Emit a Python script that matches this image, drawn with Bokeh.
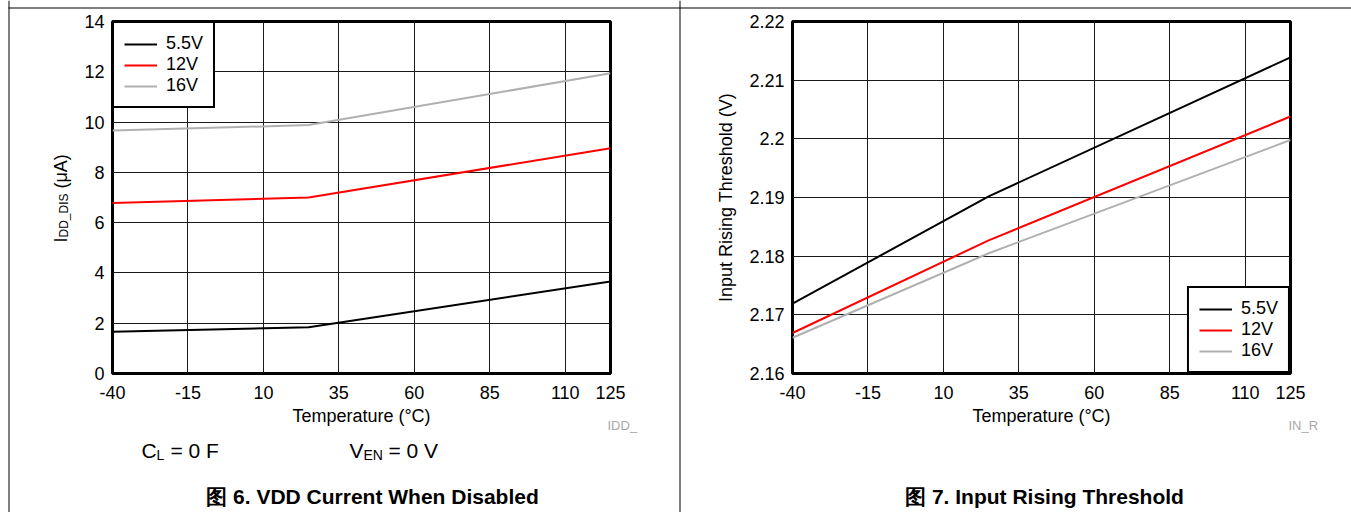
import math
from bokeh.plotting import figure
from bokeh.layouts import column, row
from bokeh.models import Range1d, FixedTicker, Label, Legend, LegendItem, BoxAnnotation
from bokeh.embed import file_html
from bokeh.resources import INLINE

FONT = "Liberation Sans"

# ---------------- data ----------------
temps = [-40, 25, 125]

idd_55 = [1.66, 1.84, 3.66]
idd_12 = [6.78, 7.00, 8.96]
idd_16 = [9.66, 9.88, 11.94]

thr_55 = [2.1719, 2.1902, 2.2139]
thr_12 = [2.1669, 2.1827, 2.2038]
thr_16 = [2.1661, 2.1805, 2.1998]

series_names = ["5.5V", "12V", "16V"]
series_colors = ["#000000", "#ff0000", "#b0b0b0"]

x_ticks = [-40, -15, 10, 35, 60, 85, 110, 125]
x_tick_labels = ["-40", "-15", "10", "35", "60", "85", "110", "125"]
idd_ticks = [0, 2, 4, 6, 8, 10, 12, 14]
thr_ticks = [2.16, 2.17, 2.18, 2.19, 2.20, 2.21, 2.22]
thr_tick_labels = ["2.16", "2.17", "2.18", "2.19", "2.2", "2.21", "2.22"]

H = 512
FR_TOP, FR_BOT = 21, 373  # canvas y of frame edges


def make_fig(width, bl, br, y0, y1, yticks, ylabels, ylabel_text, series, legend_loc):
    p = figure(width=width, height=H, x_range=Range1d(-40, 125), y_range=Range1d(y0, y1),
               output_backend="svg", toolbar_location=None,
               min_border_left=bl, min_border_right=br,
               min_border_top=FR_TOP, min_border_bottom=H - FR_BOT,
               border_fill_color="white", background_fill_color="white",
               outline_line_color="black", outline_line_width=3, outline_line_alpha=1)
    xa = p.xaxis[0]
    xa.ticker = FixedTicker(ticks=x_ticks)
    xa.major_label_overrides = {t: l for t, l in zip(x_ticks, x_tick_labels)}
    ya = p.yaxis[0]
    ya.ticker = FixedTicker(ticks=yticks)
    if ylabels is not None:
        ya.major_label_overrides = {t: l for t, l in zip(yticks, ylabels)}
    for ax in (xa, ya):
        ax.axis_line_color = None
        ax.major_tick_line_color = None
        ax.minor_tick_line_color = None
        ax.major_tick_out = 0
        ax.major_tick_in = 0
        ax.major_label_text_font = FONT
        ax.major_label_text_font_size = "18px"
        ax.major_label_text_color = "black"
        ax.axis_label_text_font = FONT
        ax.axis_label_text_font_size = "18px"
        ax.axis_label_text_font_style = "normal"
        ax.axis_label_text_color = "black"
    xa.axis_label = "Temperature (°C)"
    xa.major_label_standoff = 12
    xa.axis_label_standoff = 4
    ya.major_label_standoff = 8
    if ylabel_text:
        ya.axis_label = ylabel_text
        ya.axis_label_standoff = 10
    for g in (p.xgrid[0], p.ygrid[0]):
        g.grid_line_color = "#1a1a1a"
        g.grid_line_width = 1

    items = []
    for name, color, vals in zip(series_names, series_colors, series):
        r = p.line(temps, vals, line_color=color, line_width=2)
        items.append(LegendItem(label=name, renderers=[r]))
    leg = Legend(items=items, location=legend_loc, margin=0, padding=10, spacing=0,
                 glyph_width=33, glyph_height=20, label_height=20, label_standoff=9,
                 label_text_font=FONT, label_text_font_size="18px", label_text_color="black",
                 border_line_color="black", border_line_width=2, border_line_alpha=1,
                 background_fill_color="white", background_fill_alpha=1)
    p.add_layout(leg)
    return p


p1 = make_fig(680, 112, 70, 0, 14, idd_ticks, None, "", [idd_55, idd_12, idd_16], "top_left")
p2 = make_fig(671, 112, 61, 2.16, 2.22, thr_ticks, thr_tick_labels,
              "Input Rising Threshold (V)", [thr_55, thr_12, thr_16], "bottom_right")

# transparent overlay (page pixel coordinates) for the free texts and panel borders
ov = figure(width=1351, height=512, x_range=Range1d(0, 1351), y_range=Range1d(512, 0),
            x_axis_type=None, y_axis_type=None, output_backend="svg", toolbar_location=None,
            min_border=0, min_border_left=0, min_border_right=0, min_border_top=0,
            min_border_bottom=0, outline_line_color=None,
            background_fill_alpha=0, border_fill_alpha=0,
            styles={"position": "absolute", "left": "0px", "top": "0px", "pointer-events": "none"})

# table rules around the two panels
for l, r, t, b in ((8, 1351, 7, 8), (8, 9, 0, 512), (679, 680, 0, 512)):
    ov.add_layout(BoxAnnotation(left=l, right=r, top=t, bottom=b, fill_color="black",
                                fill_alpha=1, line_color=None))


def add_text(px, py, text, size, angle=0.0, align="left", color="black", style="normal"):
    ov.add_layout(Label(x=px, y=py, text=text, text_font=FONT, text_font_size=size,
                        text_color=color, text_font_style=style, angle=angle,
                        text_align=align, text_baseline="middle"))


# left y-axis label with subscript (rotated, reading upwards)
add_text(60, 242, "I", "18px", angle=math.pi / 2)
add_text(63, 237, "DD_DIS", "12px", angle=math.pi / 2)
add_text(60, 188, "(μA)", "18px", angle=math.pi / 2)

# conditions
add_text(141, 449.5, "C", "21px")
add_text(156, 454, "L", "14px")
add_text(170, 449.5, "= 0 F", "21px")
add_text(349, 449.5, "V", "21px")
add_text(363, 454, "EN", "14px")
add_text(388, 449.5, "= 0 V", "21px")

# small ids
add_text(607, 425, "IDD_", "13px", color="#a8a8a8")
add_text(1288, 425, "IN_R", "13px", color="#a8a8a8")

# captions
add_text(372, 496, "图 6. VDD Current When Disabled", "21px", align="center", style="bold")
add_text(1044, 496, "图 7. Input Rising Threshold", "21px", align="center", style="bold")

layout = column(row(p1, p2), ov)
open("out.html", "w").write(file_html(layout, INLINE))
